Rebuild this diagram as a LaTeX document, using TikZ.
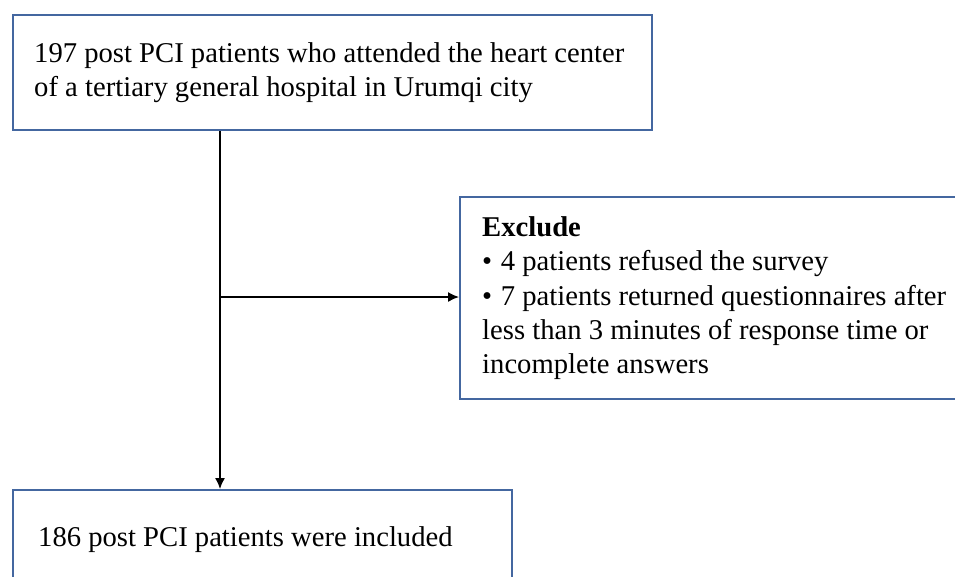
\documentclass[tikz,border=0pt]{standalone}
\usepackage{fontspec}
\setmainfont{Liberation Serif}
\usepackage{tikz}
\usetikzlibrary{positioning,calc,arrows.meta}
\definecolor{frameblue}{RGB}{68,103,160}

\begin{document}
\begin{tikzpicture}[
    x=0.02cm, y=-0.02cm,
    box/.style={draw=frameblue, line width=1.4pt, align=flush left, anchor=north west,
        inner ysep=0pt, font=\fontsize{16.3}{19.6}\selectfont},
    link/.style={draw=black, line width=0.85pt, -{Latex[length=0.22cm,width=0.2cm]}}
]
\useasboundingbox (0,0) rectangle (955,576);
\clip (0,0) rectangle (955,576);
\node[box, inner xsep=0.42cm, text width=11.94cm, minimum height=2.3cm] (patients) at (12,14)
    {197 post PCI patients who attended the heart center\\
     of a tertiary general hospital in Urumqi city};
\node[box, inner xsep=0.44cm, text width=12cm, minimum height=4.04cm] (exclude) at (459,196)
    {\textbf{Exclude}\\
     •\hspace{0.3em}4 patients refused the survey\\
     •\hspace{0.3em}7 patients returned questionnaires after\\
     less than 3 minutes of response time or\\
     incomplete answers};
\node[box, inner xsep=0.5cm, text width=8.98cm, minimum height=1.96cm] (included) at (12,489)
    {186 post PCI patients were included};
\coordinate (split) at (220,297);
\draw[link] (patients.south -| split) -- (included.north -| split);
\draw[link] (split) -- (split -| exclude.west);
\end{tikzpicture}
\end{document}
